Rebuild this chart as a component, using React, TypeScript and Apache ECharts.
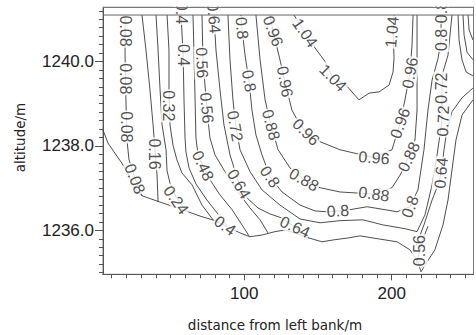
import { useEffect, useRef } from "react";
import * as echarts from "echarts";

// Velocity contour levels (m/s)
const levels = [0.08, 0.16, 0.24, 0.32, 0.4, 0.48, 0.56, 0.64, 0.72, 0.8, 0.88, 0.96, 1.04];

// Axis ranges and ticks
const xRange = [4.14, 255.5];
const yRange = [1234.96, 1241.29];
const xTickLabels = [100, 200];
const yTickLabels = [1236, 1238, 1240];
const xMinorTicks = [10, 20, 30, 40, 50, 60, 70, 80, 90, 100, 110, 120, 130, 140, 150, 160, 170, 180, 190, 200, 210, 220, 230, 240, 250];
const yMinorTicks = [
  1235.0, 1235.2, 1235.4, 1235.6, 1235.8, 1236.0, 1236.2, 1236.4, 1236.6, 1236.8,
  1237.0, 1237.2, 1237.4, 1237.6, 1237.8, 1238.0, 1238.2, 1238.4, 1238.6, 1238.8,
  1239.0, 1239.2, 1239.4, 1239.6, 1239.8, 1240.0, 1240.2, 1240.4, 1240.6, 1240.8,
  1241.0, 1241.2,
];

// Water surface and wetted boundary of the section
const waterSurface = [[4.14, 1241.1], [255.5, 1241.1]];
const bedProfile = [
  [4.1, 1238.38], [7.5, 1238.07], [11.6, 1237.86], [16.4, 1237.62], [20.4, 1237.39],
  [23.8, 1237.12], [27.2, 1236.94], [30.6, 1236.82], [42.8, 1236.67], [56.4, 1236.51],
  [69.9, 1236.34], [80.1, 1236.23], [88.9, 1236.08], [97.1, 1235.94], [103.9, 1235.85],
  [112.0, 1235.89], [120.8, 1235.97], [127.6, 1236.01], [135.8, 1235.92], [143.9, 1235.82],
  [152.7, 1235.73], [161.5, 1235.78], [170.3, 1235.82], [178.5, 1235.87], [187.3, 1235.82],
  [203.6, 1235.73], [212.4, 1235.54], [217.8, 1235.25], [219.9, 1235.02], [223.9, 1235.25],
  [229.3, 1235.54], [234.8, 1236.13], [238.2, 1236.72], [240.9, 1237.43], [243.6, 1238.14],
  [247.7, 1238.73], [255.1, 1239.09],
];

// Contour polylines, one array per isoline segment
const c008 = [[19.1, 1241.1], [19.1, 1240.15], [19.7, 1239.09], [20.4, 1238.14], [21.8, 1237.67], [25.8, 1237.24], [30.6, 1236.82]];
const c016 = [[30.6, 1241.1], [33.3, 1240.27], [36.0, 1239.33], [38.1, 1238.5], [39.4, 1237.91], [40.8, 1237.31], [41.5, 1236.67]];
const c024 = [[40.1, 1241.1], [41.5, 1240.27], [42.8, 1239.37], [44.2, 1238.5], [46.9, 1237.91], [47.6, 1237.41], [49.6, 1237.12], [53.7, 1236.79], [58.5, 1236.56], [61.8, 1236.44]];
const c032 = [[47.6, 1241.1], [48.9, 1240.27], [48.9, 1239.37], [49.6, 1238.5], [51.6, 1238.02], [54.3, 1237.67], [57.7, 1237.36], [64.5, 1237.08], [71.3, 1236.6], [78.8, 1236.25]];
const c040 = [[57.1, 1241.1], [58.5, 1240.15], [59.1, 1239.09], [59.8, 1238.19], [60.4, 1237.86], [62.5, 1237.48], [67.2, 1237.1], [74.6, 1236.72], [82.1, 1236.39], [88.3, 1236.11]];
const c048 = [[65.2, 1241.1], [65.9, 1240.15], [66.6, 1239.09], [67.2, 1238.19], [68.6, 1237.79], [72.0, 1237.53], [76.7, 1237.2], [83.5, 1236.84], [91.7, 1236.49], [98.4, 1236.13], [103.2, 1235.87]];
const c056 = [[71.3, 1241.1], [72.0, 1240.01], [74.6, 1238.9], [76.7, 1238.19], [80.1, 1237.79], [86.9, 1237.39], [95.7, 1236.91], [103.9, 1236.53], [110.7, 1236.25], [116.1, 1235.94]];
const c056r = [[216.5, 1235.2], [219.2, 1235.52], [221.9, 1235.85], [224.6, 1236.1]];
const c064 = [[79.4, 1241.1], [80.8, 1240.27], [83.5, 1239.33], [86.2, 1238.5], [90.3, 1237.79], [96.4, 1237.1], [101.8, 1236.77], [109.3, 1236.53], [117.4, 1236.39], [124.9, 1236.3], [134.4, 1236.08], [143.9, 1235.82]];
const c064r = [[216.5, 1235.63], [221.9, 1236.13], [227.4, 1236.72], [231.5, 1237.08], [233.5, 1237.36], [235.5, 1237.91], [237.5, 1238.38], [240.9, 1238.81], [247.7, 1239.14], [255.1, 1239.37]];
const c064t = [[245.0, 1241.1], [245.7, 1240.51], [247.7, 1240.04], [250.5, 1239.75], [255.1, 1239.66]];
const c056t = [[248.4, 1241.1], [249.1, 1240.63], [251.1, 1240.22], [255.1, 1240.04]];
const c048t = [[251.8, 1241.1], [252.5, 1240.75], [255.1, 1240.51]];
const c072 = [[88.9, 1241.1], [90.3, 1240.04], [92.3, 1239.09], [94.4, 1238.43], [97.1, 1237.91], [103.9, 1237.39], [112.0, 1236.96], [124.2, 1236.6], [137.8, 1236.27], [151.4, 1236.18], [164.9, 1236.23], [180.5, 1236.25], [194.0, 1236.13], [209.0, 1236.04], [217.2, 1235.97], [222.6, 1236.37], [227.4, 1237.08], [230.8, 1237.79], [234.1, 1238.59], [234.1, 1239.37], [234.8, 1239.75], [238.2, 1240.15], [240.9, 1241.1]];
const c080 = [[97.8, 1241.1], [98.4, 1240.79], [100.5, 1240.15], [103.2, 1239.54], [105.2, 1238.85], [107.9, 1238.26], [112.0, 1237.79], [117.4, 1237.27], [125.6, 1236.91], [137.8, 1236.6], [148.0, 1236.46], [156.1, 1236.44], [163.5, 1236.46], [171.7, 1236.49], [183.3, 1236.56], [195.5, 1236.49], [203.6, 1236.44], [212.4, 1236.56], [217.8, 1236.96], [221.9, 1237.91], [224.6, 1238.85], [227.4, 1239.56], [231.5, 1240.08], [233.5, 1240.51], [233.5, 1241.1]];
const c088 = [[107.9, 1241.1], [110.7, 1240.04], [114.1, 1239.09], [118.1, 1238.5], [122.9, 1237.91], [131.0, 1237.48], [140.5, 1237.2], [151.4, 1237.01], [164.9, 1236.91], [188.0, 1236.86], [200.2, 1237.01], [205.7, 1237.31], [211.7, 1237.74], [215.8, 1238.14], [217.2, 1238.85], [217.2, 1240.04], [217.2, 1241.1]];
const c096 = [[117.4, 1241.1], [119.5, 1240.72], [124.2, 1240.04], [127.6, 1239.52], [132.3, 1238.85], [137.8, 1238.5], [141.9, 1238.33], [151.4, 1238.1], [164.9, 1237.91], [188.0, 1237.72], [200.2, 1237.91], [205.7, 1238.54], [209.0, 1239.09], [212.4, 1239.73], [213.8, 1240.39], [214.5, 1241.1]];
const c104 = [[133.7, 1241.1], [141.2, 1240.68], [148.0, 1240.32], [154.8, 1240.0], [160.2, 1239.61], [169.0, 1239.44], [177.8, 1239.09], [184.6, 1239.25], [191.4, 1239.28], [198.2, 1239.44], [200.9, 1239.75], [201.6, 1240.08], [200.9, 1240.7], [201.6, 1241.1]];

const contourLines = [
  { level: 0.08, pts: c008 }, { level: 0.16, pts: c016 }, { level: 0.24, pts: c024 },
  { level: 0.32, pts: c032 }, { level: 0.4, pts: c040 }, { level: 0.48, pts: c048 },
  { level: 0.48, pts: c048t }, { level: 0.56, pts: c056 }, { level: 0.56, pts: c056r },
  { level: 0.56, pts: c056t }, { level: 0.64, pts: c064 }, { level: 0.64, pts: c064r },
  { level: 0.64, pts: c064t }, { level: 0.72, pts: c072 }, { level: 0.8, pts: c080 },
  { level: 0.88, pts: c088 }, { level: 0.96, pts: c096 }, { level: 1.04, pts: c104 },
];

// Inline contour labels: [distance, altitude, level, angle]
const contourLabels = [
  [19.7, 1240.72, 0.08, -90], [19.7, 1239.59, 0.08, -90], [20.4, 1238.45, 0.08, -90], [25.8, 1237.22, 0.08, -68],
  [39.4, 1237.81, 0.16, -90],
  [53.7, 1236.72, 0.24, -55],
  [48.9, 1238.95, 0.32, -90],
  [57.7, 1241.15, 0.4, -90], [58.5, 1240.15, 0.4, -90], [86.9, 1236.11, 0.4, -35],
  [72.0, 1237.53, 0.48, -65],
  [71.3, 1239.97, 0.56, -88], [74.6, 1238.9, 0.56, -85], [219.2, 1235.52, 0.56, 90],
  [79.4, 1241.03, 0.64, -85], [96.4, 1237.1, 0.64, -60], [134.4, 1236.08, 0.64, -25], [233.5, 1237.36, 0.64, 85],
  [93.7, 1238.47, 0.72, -80], [233.5, 1239.37, 0.72, 90], [234.8, 1238.59, 0.72, 88],
  [98.4, 1240.79, 0.8, -85], [103.2, 1239.54, 0.8, -80], [117.4, 1237.27, 0.8, -55], [163.5, 1236.46, 0.8, 3],
  [212.4, 1236.56, 0.8, 70], [233.5, 1241.17, 0.8, 90], [233.5, 1240.51, 0.8, 90],
  [118.1, 1238.5, 0.88, -75], [140.5, 1237.2, 0.88, -30], [188.0, 1236.86, 0.88, -8], [211.7, 1237.74, 0.88, 65],
  [119.5, 1240.72, 0.96, -70], [127.6, 1239.52, 0.96, -80], [141.9, 1238.33, 0.96, -45], [188.0, 1237.72, 0.96, -5],
  [205.7, 1238.54, 0.96, 70], [212.4, 1239.73, 0.96, 80],
  [141.2, 1240.68, 1.04, -55], [160.2, 1239.61, 1.04, -45], [200.2, 1240.7, 1.04, 85],
];

const AXIS_FONT = '"Liberation Sans", Arial, sans-serif';
const TITLE_FONT = '"DejaVu Sans", Verdana, sans-serif';
const LINE_COLOR = "#3a3a3a";

export default function App() {
  const ref = useRef<HTMLDivElement>(null);

  useEffect(() => {
    document.body.style.margin = "0";
    if (!ref.current) return;
    const chart = echarts.init(ref.current, null, { renderer: "svg" });

    const lineSeries = contourLines.map((c) => ({
      type: "line",
      name: String(c.level),
      data: c.pts,
      showSymbol: false,
      symbol: "none",
      silent: true,
      z: 2,
      lineStyle: { color: LINE_COLOR, width: 0.9 },
    }));

    const boundarySeries = [
      {
        type: "line",
        data: bedProfile,
        showSymbol: false,
        symbol: "none",
        silent: true,
        z: 2,
        lineStyle: { color: LINE_COLOR, width: 0.9 },
      },
      {
        type: "line",
        data: waterSurface,
        showSymbol: false,
        symbol: "none",
        silent: true,
        z: 6,
        lineStyle: { color: "#666", width: 1 },
      },
    ];

    const labelSeries = {
      type: "scatter",
      silent: true,
      z: 4,
      symbolSize: 1,
      itemStyle: { color: "rgba(0,0,0,0)" },
      data: contourLabels.map((l) => ({
        value: [l[0], l[1], l[2]],
        label: { rotate: l[3] },
      })),
      label: {
        show: true,
        position: "inside",
        formatter: (p: any) => String(p.value[2]),
        fontFamily: AXIS_FONT,
        fontSize: 16,
        color: "#222",
        backgroundColor: "#fff",
        padding: [0, 1],
      },
    };

    const axisLineStyle = { lineStyle: { color: "#555", width: 1 } };

    chart.setOption({
      animation: false,
      backgroundColor: "#fff",
      grid: {
        left: 103,
        top: 7,
        right: 2.5,
        bottom: 60.7,
        show: true,
        borderColor: "#777",
        borderWidth: 1,
        containLabel: false,
        outerBoundsMode: "none",
      },
      xAxis: [
        {
          type: "value",
          min: xRange[0],
          max: xRange[1],
          position: "bottom",
          splitLine: { show: false },
          axisLine: axisLineStyle,
          axisTick: { show: true, customValues: xTickLabels, length: 6, lineStyle: { color: "#555" } },
          axisLabel: {
            customValues: xTickLabels,
            fontFamily: AXIS_FONT,
            fontSize: 17,
            color: "#222",
            margin: 11,
          },
        },
        {
          type: "value",
          min: xRange[0],
          max: xRange[1],
          position: "bottom",
          splitLine: { show: false },
          axisLine: axisLineStyle,
          axisTick: { show: true, customValues: xMinorTicks, length: 4, lineStyle: { color: "#555" } },
          axisLabel: { show: false },
        },
      ],
      yAxis: [
        {
          type: "value",
          min: yRange[0],
          max: yRange[1],
          position: "left",
          splitLine: { show: false },
          axisLine: { show: true, ...axisLineStyle },
          axisTick: { show: true, customValues: yTickLabels, length: 8, lineStyle: { color: "#555" } },
          axisLabel: {
            customValues: yTickLabels,
            formatter: (v: number) => v.toFixed(1),
            fontFamily: AXIS_FONT,
            fontSize: 17,
            color: "#222",
            margin: 9,
          },
        },
        {
          type: "value",
          min: yRange[0],
          max: yRange[1],
          position: "left",
          splitLine: { show: false },
          axisLine: { show: true, ...axisLineStyle },
          axisTick: { show: true, customValues: yMinorTicks, length: 4, lineStyle: { color: "#555" } },
          axisLabel: { show: false },
        },
      ],
      series: [...lineSeries, ...boundarySeries, labelSeries],
      graphic: [
        {
          type: "rect",
          z: 100,
          shape: { x: 0, y: 0, width: 476, height: 6.5 },
          style: { fill: "#fff" },
        },
        {
          type: "line",
          z: 101,
          shape: { x1: 103, y1: 7.5, x2: 473.5, y2: 7.5 },
          style: { stroke: "#777", lineWidth: 1 },
        },
        {
          type: "text",
          z: 101,
          x: 275,
          y: 325,
          style: {
            text: "distance from left bank/m",
            font: `13.5px ${TITLE_FONT}`,
            fill: "#222",
            textAlign: "center",
            textVerticalAlign: "middle",
          },
        },
        {
          type: "text",
          z: 101,
          x: 20,
          y: 137.5,
          rotation: Math.PI / 2,
          style: {
            text: "altitude/m",
            font: `13.5px ${TITLE_FONT}`,
            fill: "#222",
            textAlign: "center",
            textVerticalAlign: "middle",
          },
        },
      ],
    });

    return () => chart.dispose();
  }, []);

  return <div ref={ref} style={{ width: 476, height: 335 }} />;
}
